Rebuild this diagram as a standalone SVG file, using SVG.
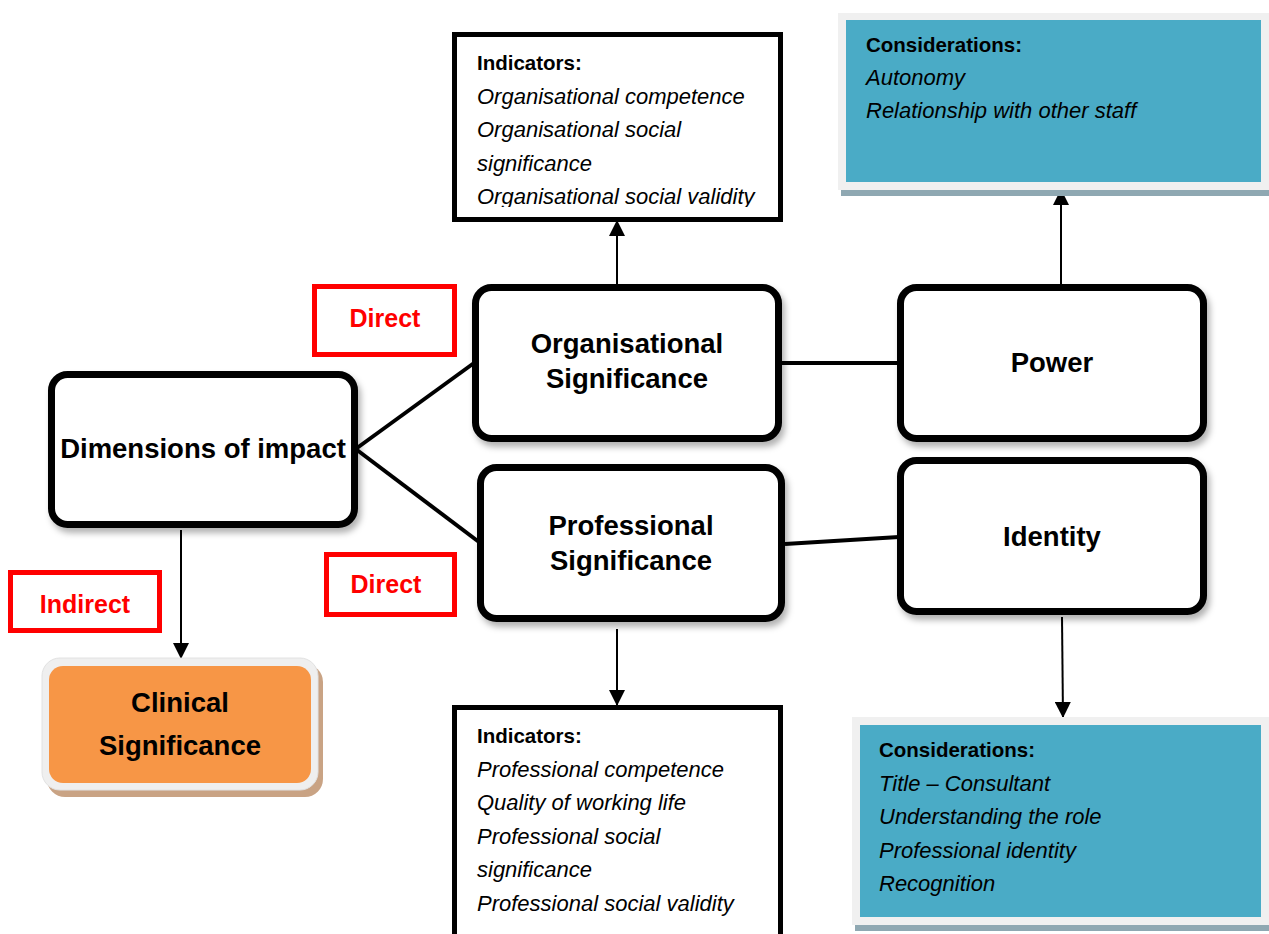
<svg xmlns="http://www.w3.org/2000/svg" width="1269" height="934" viewBox="0 0 1269 934">
  <style>
    .node { fill: #ffffff; stroke: #000000; stroke-width: 7; }
    .info { fill: #ffffff; stroke: #000000; stroke-width: 5; }
    .tag { fill: #ffffff; stroke: #ff0000; stroke-width: 5; }
    .title { font-family: "Liberation Sans", Arial, sans-serif; font-weight: bold; font-size: 27.5px; fill: #000000; text-anchor: middle; }
    .tagtext { font-family: "Liberation Sans", Arial, sans-serif; font-weight: bold; font-size: 25px; fill: #ff0000; text-anchor: middle; }
    .head { font-family: "Liberation Sans", Arial, sans-serif; font-weight: bold; font-size: 20.5px; fill: #000000; }
    .item { font-family: "Liberation Sans", Arial, sans-serif; font-style: italic; font-size: 22px; fill: #000000; }
    .link { stroke: #000000; stroke-width: 4; fill: none; }
    .arrow { stroke: #000000; stroke-width: 2; fill: none; }
    .frame { fill: #f0f0f0; }
    .teal { fill: #4aabc6; }
    .bar { fill: #8fa8b2; }
  </style>
  <defs>
    <filter id="shadow" x="-10%" y="-10%" width="125%" height="130%">
      <feDropShadow dx="3" dy="5" stdDeviation="3" flood-color="#000000" flood-opacity="0.3"/>
    </filter>
    <marker id="head" markerUnits="userSpaceOnUse" markerWidth="16" markerHeight="16" viewBox="0 0 16 16" refX="16" refY="8" orient="auto">
      <path d="M0,0 L16,8 L0,16 Z" fill="#000000"/>
    </marker>
    <clipPath id="clipTopInd">
      <rect x="457" y="37" width="321" height="170"/>
    </clipPath>
    <clipPath id="clipBotInd">
      <rect x="457" y="710" width="321" height="224"/>
    </clipPath>
  </defs>

  <!-- connectors -->
  <g id="connectors">
    <line class="link" x1="357" y1="448" x2="474" y2="363"/>
    <line class="link" x1="357" y1="450" x2="479" y2="542"/>
    <line class="link" x1="782" y1="363" x2="899" y2="363"/>
    <line class="link" x1="785" y1="544" x2="899" y2="537"/>
    <line class="arrow" x1="617" y1="284" x2="617" y2="220" marker-end="url(#head)"/>
    <line class="arrow" x1="1061" y1="284" x2="1061" y2="189" marker-end="url(#head)"/>
    <line class="arrow" x1="181" y1="530" x2="181" y2="659" marker-end="url(#head)"/>
    <line class="arrow" x1="617" y1="629" x2="617" y2="706" marker-end="url(#head)"/>
    <line class="arrow" x1="1062" y1="617" x2="1063" y2="718" marker-end="url(#head)"/>
  </g>

  <!-- central node -->
  <g id="dimensions">
    <rect class="node" x="51.5" y="374.5" width="303" height="150" rx="16" filter="url(#shadow)"/>
    <text class="title" x="203" y="458">Dimensions of impact</text>
  </g>

  <g id="organisational">
    <rect class="node" x="475.5" y="287.5" width="303" height="151" rx="16" filter="url(#shadow)"/>
    <text class="title" x="627" y="353">Organisational</text>
    <text class="title" x="627" y="388">Significance</text>
  </g>

  <g id="professional">
    <rect class="node" x="480.5" y="467.5" width="301" height="151" rx="16" filter="url(#shadow)"/>
    <text class="title" x="631" y="535">Professional</text>
    <text class="title" x="631" y="570">Significance</text>
  </g>

  <g id="power">
    <rect class="node" x="900.5" y="287.5" width="303" height="151" rx="16" filter="url(#shadow)"/>
    <text class="title" x="1052" y="372">Power</text>
  </g>

  <g id="identity">
    <rect class="node" x="900.5" y="460.5" width="303" height="151" rx="16" filter="url(#shadow)"/>
    <text class="title" x="1052" y="546">Identity</text>
  </g>

  <!-- indicator boxes -->
  <g id="org-indicators">
    <rect class="info" x="454.5" y="34.5" width="326" height="185"/>
    <g clip-path="url(#clipTopInd)">
      <text class="head" x="477" y="70">Indicators:</text>
      <text class="item" x="477" y="104">Organisational competence</text>
      <text class="item" x="477" y="137">Organisational social</text>
      <text class="item" x="477" y="171">significance</text>
      <text class="item" x="477" y="204">Organisational social validity</text>
    </g>
  </g>

  <g id="prof-indicators">
    <rect class="info" x="454.5" y="707.5" width="326" height="240"/>
    <g clip-path="url(#clipBotInd)">
      <text class="head" x="477" y="743">Indicators:</text>
      <text class="item" x="477" y="777">Professional competence</text>
      <text class="item" x="477" y="810">Quality of working life</text>
      <text class="item" x="477" y="844">Professional social</text>
      <text class="item" x="477" y="877">significance</text>
      <text class="item" x="477" y="911">Professional social validity</text>
    </g>
  </g>

  <!-- considerations panels -->
  <g id="power-considerations">
    <rect class="bar" x="841" y="189" width="428" height="7"/>
    <rect class="frame" x="838" y="13" width="431" height="177"/>
    <rect class="teal" x="846" y="20" width="415" height="162"/>
    <text class="head" x="866" y="52">Considerations:</text>
    <text class="item" x="866" y="85">Autonomy</text>
    <text class="item" x="866" y="118">Relationship with other staff</text>
  </g>

  <g id="identity-considerations">
    <rect class="bar" x="855" y="924" width="414" height="7"/>
    <rect class="frame" x="852" y="717" width="417" height="208"/>
    <rect class="teal" x="860" y="725" width="401" height="192"/>
    <text class="head" x="879" y="757">Considerations:</text>
    <text class="item" x="879" y="791">Title – Consultant</text>
    <text class="item" x="879" y="824">Understanding the role</text>
    <text class="item" x="879" y="858">Professional identity</text>
    <text class="item" x="879" y="891">Recognition</text>
  </g>

  <!-- clinical outcome -->
  <g id="clinical">
    <rect x="47" y="664" width="276" height="133" rx="18" fill="#c9a384"/>
    <rect x="42" y="658" width="276" height="132" rx="18" fill="#efefef" stroke="#e2e2e2" stroke-width="1"/>
    <rect x="49" y="666" width="262" height="117" rx="14" fill="#f79646"/>
    <text class="title" x="180" y="712">Clinical</text>
    <text class="title" x="180" y="755">Significance</text>
  </g>

  <!-- pathway labels -->
  <g id="label-direct-org">
    <rect class="tag" x="314.5" y="286.5" width="140" height="68"/>
    <text class="tagtext" x="385" y="327">Direct</text>
  </g>
  <g id="label-direct-prof">
    <rect class="tag" x="326.5" y="554.5" width="128" height="60"/>
    <text class="tagtext" x="386" y="593">Direct</text>
  </g>
  <g id="label-indirect">
    <rect class="tag" x="10.5" y="572.5" width="149" height="58"/>
    <text class="tagtext" x="85" y="613">Indirect</text>
  </g>
</svg>
